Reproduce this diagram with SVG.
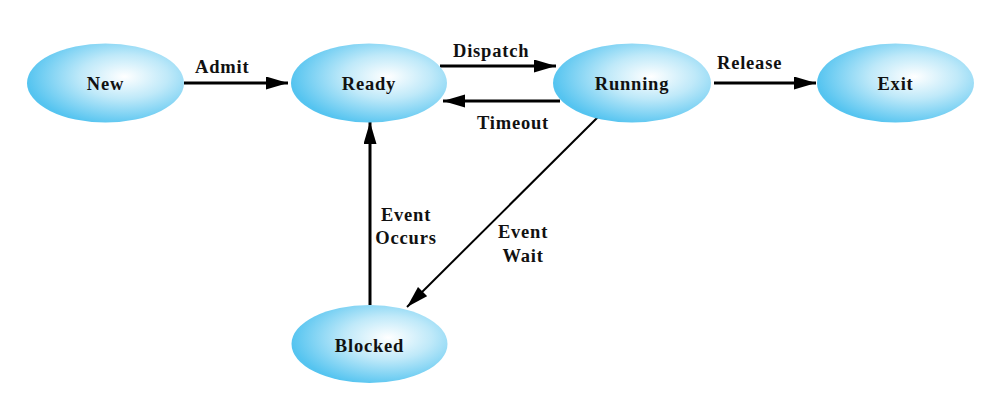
<svg xmlns="http://www.w3.org/2000/svg" width="1000" height="410" viewBox="0 0 1000 410">
<style>
.node{fill:url(#g);}
.lbl{font-family:"Liberation Serif",serif;font-weight:bold;font-size:18.5px;letter-spacing:0.8px;fill:#111;}
.c{text-anchor:middle;}
.edge{stroke:#000;stroke-width:3;fill:none;marker-end:url(#ah);}
.thin{stroke-width:2;}
</style>
<defs>
<radialGradient id="g" cx="0.62" cy="0.42" r="0.62" fx="0.62" fy="0.42">
<stop offset="0" stop-color="#ffffff"/>
<stop offset="0.45" stop-color="#bfe9f9"/>
<stop offset="1" stop-color="#55c4f0"/>
</radialGradient>
<marker id="ah" markerUnits="userSpaceOnUse" markerWidth="24" markerHeight="14" refX="22" refY="6.5" orient="auto">
<path d="M0,0 L22,6.5 L0,13 z" fill="#000"/>
</marker>
</defs>
<rect width="1000" height="410" fill="#fff"/>
<g id="connectors">
<line class="edge" x1="184" y1="83" x2="288" y2="83"/>
<line class="edge" x1="440" y1="66" x2="556" y2="66"/>
<line class="edge" x1="560" y1="101" x2="443" y2="101"/>
<line class="edge" x1="714" y1="83" x2="816" y2="83"/>
<line class="edge" x1="370" y1="305" x2="370" y2="122"/>
<line class="edge thin" x1="598" y1="117" x2="407" y2="307"/>
<text class="lbl" x="195" y="73">Admit</text>
<text class="lbl" x="453" y="57">Dispatch</text>
<text class="lbl" x="477" y="129">Timeout</text>
<text class="lbl" x="717" y="69">Release</text>
<text class="lbl c" x="406" y="221">Event</text>
<text class="lbl c" x="406" y="244">Occurs</text>
<text class="lbl c" x="523" y="238">Event</text>
<text class="lbl c" x="523" y="262">Wait</text>
</g>
<g id="new"><ellipse class="node" cx="105.5" cy="83" rx="78.5" ry="39.5"/><text class="lbl c" x="105.5" y="90">New</text></g>
<g id="ready"><ellipse class="node" cx="369" cy="83" rx="78" ry="39.5"/><text class="lbl c" x="369" y="90">Ready</text></g>
<g id="running"><ellipse class="node" cx="632" cy="83" rx="79" ry="39.5"/><text class="lbl c" x="632" y="90">Running</text></g>
<g id="exit"><ellipse class="node" cx="895.5" cy="83" rx="78.5" ry="39.5"/><text class="lbl c" x="895.5" y="90">Exit</text></g>
<g id="blocked"><ellipse class="node" cx="369.5" cy="344" rx="78" ry="39"/><text class="lbl c" x="369.5" y="352">Blocked</text></g>
</svg>
